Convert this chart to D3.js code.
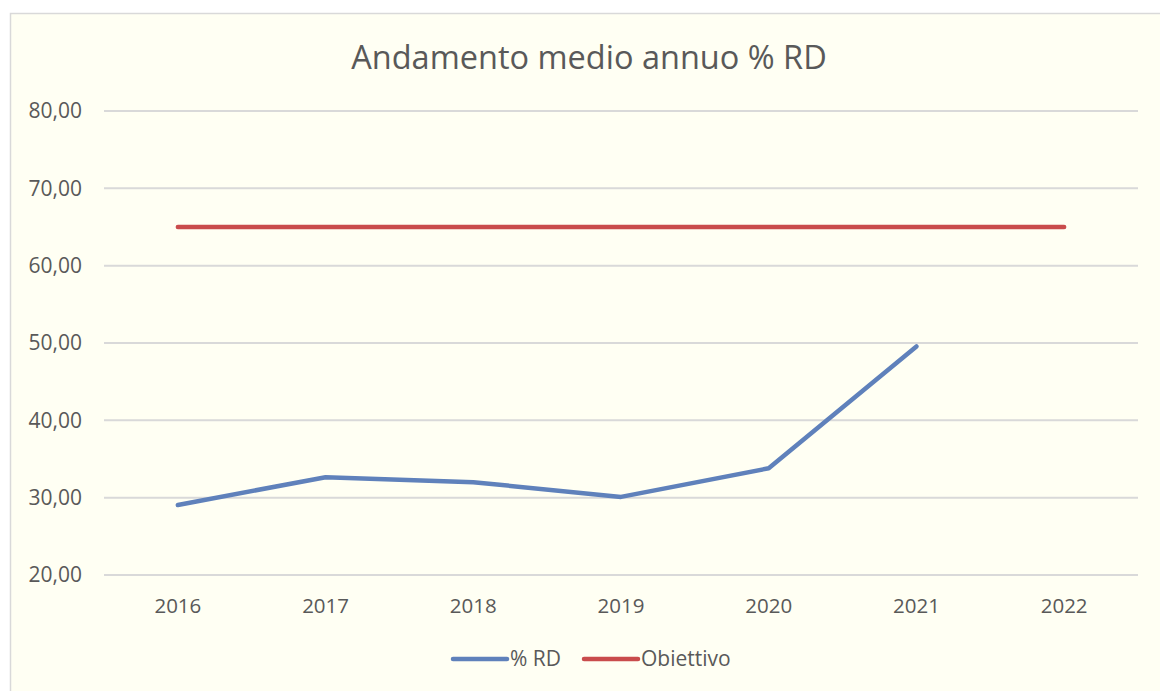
<!DOCTYPE html>
<html>
<head>
<meta charset="utf-8">
<script src="https://cdn.jsdelivr.net/npm/d3@7"></script>
<style>
  body { margin: 0; background: #ffffff; }
  svg { display: block; font-family: "Open Sans", sans-serif; }
</style>
</head>
<body>
<div id="chart"></div>
<script>
// data
var years = ["2016", "2017", "2018", "2019", "2020", "2021", "2022"];
var rdValues = [29.05, 32.65, 32.0, 30.1, 33.8, 49.55, null];
var targetValues = [65, 65, 65, 65, 65, 65, 65];
var yTicks = [20, 30, 40, 50, 60, 70, 80];

var W = 1160, H = 691;
var margin = {left: 104, right: 22, top: 111, bottom: 116};
var textColor = "#595959";

var svg = d3.select("#chart").append("svg")
    .attr("width", W)
    .attr("height", H);

// chart area background + border (right/bottom edges fall off the picture)
svg.append("rect")
    .attr("x", 10.5).attr("y", 13.5)
    .attr("width", W + 20).attr("height", H + 20)
    .attr("fill", "#fffff3")
    .attr("stroke", "#d9d9d9")
    .attr("stroke-width", 1.5);

var x = d3.scalePoint()
    .domain(years)
    .range([margin.left, W - margin.right])
    .padding(0.5);

var y = d3.scaleLinear()
    .domain([20, 80])
    .range([H - margin.bottom, margin.top]);

var fmt = function(d) { return d3.format(".2f")(d).replace(".", ","); };

// gridlines
svg.append("g").selectAll("line")
    .data(yTicks)
    .enter().append("line")
    .attr("x1", margin.left)
    .attr("x2", W - margin.right)
    .attr("y1", function(d) { return y(d); })
    .attr("y2", function(d) { return y(d); })
    .attr("stroke", "#d9d9d9")
    .attr("stroke-width", 2);

// y labels
svg.append("g").selectAll("text")
    .data(yTicks)
    .enter().append("text")
    .attr("x", 82)
    .attr("y", function(d) { return y(d); })
    .attr("dy", "0.35em")
    .attr("text-anchor", "end")
    .attr("fill", textColor)
    .style("font-size", "21px")
    .text(fmt);

// x labels
svg.append("g").selectAll("text")
    .data(years)
    .enter().append("text")
    .attr("x", function(d) { return x(d); })
    .attr("y", 606)
    .attr("dy", "0.35em")
    .attr("text-anchor", "middle")
    .attr("fill", textColor)
    .style("font-size", "20.5px")
    .text(function(d) { return d; });

var line = d3.line()
    .defined(function(d) { return d[1] != null; })
    .x(function(d) { return x(d[0]); })
    .y(function(d) { return y(d[1]); });

var series = [
    {name: "% RD", color: "#5f81bb", values: rdValues},
    {name: "Obiettivo", color: "#c94c4c", values: targetValues}
];

series.forEach(function(s) {
    svg.append("path")
        .datum(years.map(function(yr, i) { return [yr, s.values[i]]; }))
        .attr("d", line)
        .attr("fill", "none")
        .attr("stroke", s.color)
        .attr("stroke-width", 4.5)
        .attr("stroke-linecap", "round")
        .attr("stroke-linejoin", "round");
});

// title
svg.append("text")
    .attr("x", 589)
    .attr("y", 58)
    .attr("dy", "0.35em")
    .attr("text-anchor", "middle")
    .attr("fill", textColor)
    .style("font-size", "32.5px")
    .text("Andamento medio annuo % RD");

// legend
var legendX = [453, 584];
var legend = svg.append("g").selectAll("g")
    .data(series)
    .enter().append("g")
    .attr("transform", function(d, i) { return "translate(" + legendX[i] + ",659)"; });

legend.append("line")
    .attr("x1", 0).attr("x2", 54)
    .attr("stroke", function(d) { return d.color; })
    .attr("stroke-width", 4.5)
    .attr("stroke-linecap", "round");

legend.append("text")
    .attr("x", 57)
    .attr("dy", "0.35em")
    .attr("fill", textColor)
    .style("font-size", "21px")
    .text(function(d) { return d.name; });
</script>
</body>
</html>
